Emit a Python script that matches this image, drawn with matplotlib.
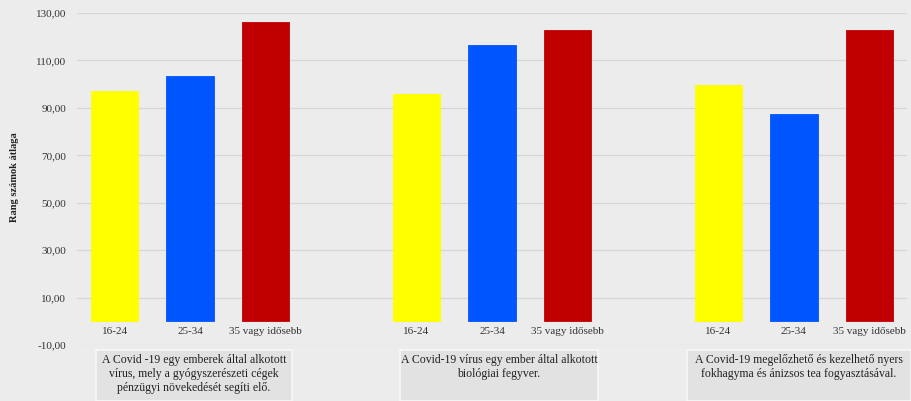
import matplotlib
matplotlib.use("Agg")
import matplotlib.pyplot as plt
from matplotlib.patches import Rectangle

# average rank per age group, for three statements
groups = ["16-24", "25-34", "35 vagy idősebb"]
statements = [
    "A Covid -19 egy emberek által alkotott\nvírus, mely a gyógyszerészeti cégek\npénzügyi növekedését segíti elő.",
    "A Covid-19 vírus egy ember által alkotott\nbiológiai fegyver.",
    "A Covid-19 megelőzhető és kezelhető nyers\nfokhagyma és ánizsos tea fogyasztásával.",
]
vals_1624 = [97.0, 95.8, 99.6]
vals_2534 = [103.4, 116.6, 87.3]
vals_35 = [126.4, 122.8, 122.8]
colors = ["#ffff00", "#0055ff", "#c00000"]
yticks = [-10, 10, 30, 50, 70, 90, 110, 130]

plt.rcParams["font.family"] = ["Liberation Serif", "DejaVu Serif"]
bg = "#ececec"

fig = plt.figure(figsize=(9.11, 4.01), dpi=100, facecolor=bg)
ax = fig.add_axes([77 / 911, 1 - 345 / 401, (907 - 77) / 911, (345 - 13) / 401])
ax.set_facecolor(bg)

series = [vals_1624, vals_2534, vals_35]
for s, (vals, c) in enumerate(zip(series, colors)):
    xs = [g * 4 + s for g in range(len(statements))]
    ax.bar(xs, vals, width=0.63, color=c, edgecolor=c, linewidth=0.6, zorder=3)
    for x in xs:
        ax.text(x, -4.3, groups[s], ha="center", va="center", fontsize=8,
                color="#333333", zorder=4)

ax.set_xlim(-0.5, 10.5)
ax.set_ylim(-10, 130)
ax.set_yticks(yticks)
ax.set_yticklabels([f"{v:.2f}".replace(".", ",") for v in yticks],
                   fontsize=8, color="#333333")
ax.set_xticks([])
ax.tick_params(axis="y", length=0, pad=8)
ax.grid(axis="y", color="#d6d6d6", linewidth=0.9, zorder=0)
for sp in ax.spines.values():
    sp.set_visible(False)

fig.text(15 / 911, 1 - 177 / 401, "Rang számok átlaga", rotation=90,
         ha="center", va="center", fontsize=7.5, fontweight="bold", color="#222222")

# text boxes under each group
boxes = [(96, 292), (400, 598), (687, 911)]
for (x0, x1), txt in zip(boxes, statements):
    fig.patches.append(Rectangle((x0 / 911, 0), (x1 - x0) / 911, (401 - 350) / 401,
                                 transform=fig.transFigure, facecolor="#e2e2e2",
                                 edgecolor="#f7f7f7", linewidth=1.2))
    fig.text((x0 + x1) / 2 / 911, 1 - 354 / 401, txt, ha="center", va="top",
             fontsize=8.5, linespacing=1.25, color="#222222")

fig.savefig("out.png", dpi=100, facecolor=bg)
